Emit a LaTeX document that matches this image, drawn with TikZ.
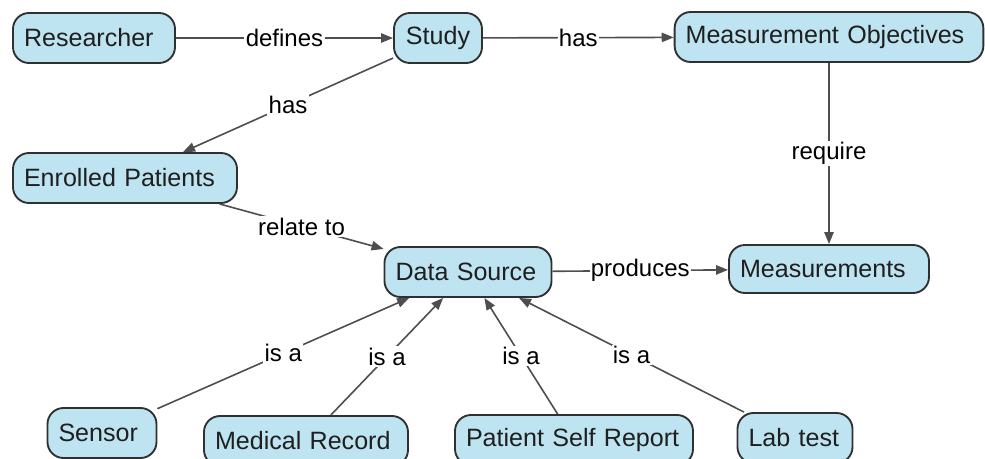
\documentclass[tikz,border=0pt]{standalone}
\usepackage{fontspec}
\setmainfont{Liberation Sans}
\usetikzlibrary{arrows.meta}
\definecolor{conceptfill}{RGB}{191,228,241}
\definecolor{conceptline}{RGB}{48,48,48}
\definecolor{linkline}{RGB}{78,78,78}
\tikzset{
  concept/.style={draw=conceptline, line width=1.4pt, fill=conceptfill,
    rounded corners=12pt, minimum height=37.5pt, inner xsep=8.25pt, inner ysep=0pt,
    align=left, text=black!88, font=\fontsize{18.8}{22}\selectfont},
  link/.style={draw=linkline, line width=1.2pt, -{Triangle[length=9pt,width=7pt]}},
  lbl/.style={fill=white, inner sep=1pt, text=black, font=\fontsize{18}{21}\selectfont, pos=0.5}
}
\begin{document}
\begin{tikzpicture}[x=0.75pt,y=-0.75pt]
\useasboundingbox (0,0) rectangle (985,458);
\clip (0,0) rectangle (985,458);

% concepts
\node[concept, text width=105pt]                (res)   at (94,38)   {Researcher};
\node[concept, text width=49.5pt, align=center] (study) at (438,38)  {Study};
\node[concept, text width=215pt]                (mo)    at (829,37)  {Measurement Objectives};
\node[concept, text width=151.5pt]              (ep)    at (125,178) {Enrolled Patients};
\node[concept, text width=108.75pt]             (ds)    at (468,272) {Data Source};
\node[concept, text width=133.5pt, minimum height=36pt] (ms) at (829,269) {Measurements};
\node[concept, text width=65.25pt]              (sen)   at (102,433) {Sensor};
\node[concept, text width=136.5pt]              (mr)    at (306,441) {Medical Record};
\node[concept, text width=162pt]                (psr)   at (574,440) {Patient Self Report};
\node[concept, text width=69.75pt]              (lab)   at (795,438) {Lab test};

% relations
\draw[link] (res)   -- node[lbl] {defines}   (study);
\draw[link] (study) -- node[lbl] {has}       (mo);
\draw[link] (study) -- node[lbl] {has}       (ep);
\draw[link] (ep)    -- node[lbl] {relate to} (ds);
\draw[link] (mo)    -- node[lbl] {require}   (ms);
\draw[link] (ds)    -- node[lbl] {produces}  (ms);
\draw[link] (sen)   -- node[lbl] {is a}      (ds);
\draw[link] (mr)    -- node[lbl] {is a}      (ds);
\draw[link] (psr)   -- node[lbl] {is a}      (ds);
\draw[link] (lab)   -- node[lbl] {is a}      (ds);
\end{tikzpicture}
\end{document}
